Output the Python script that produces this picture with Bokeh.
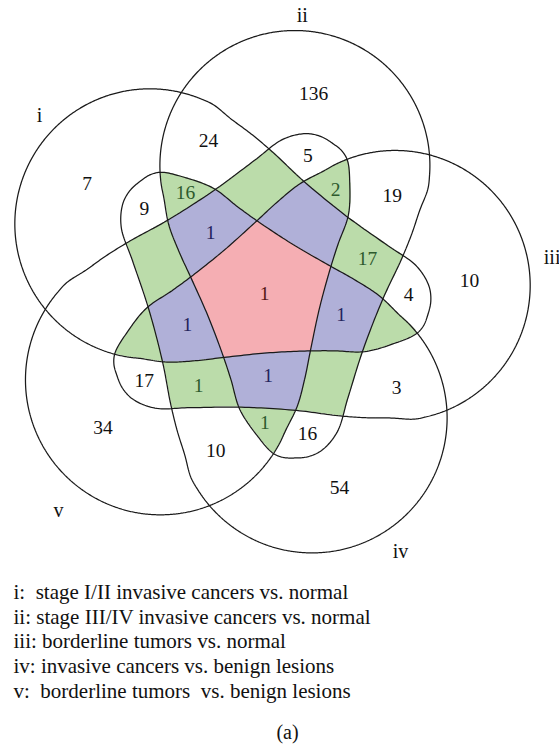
import numpy as np
from bokeh.plotting import figure
from bokeh.models import Range1d, ColumnDataSource
from bokeh.core.properties import value
from bokeh.embed import file_html
from bokeh.resources import INLINE

# ---------------- data ----------------
SETS = ["i", "ii", "iii", "iv", "v"]
LEGEND = [
    "i:\u00a0 stage I/II invasive cancers vs. normal",
    "ii: stage III/IV invasive cancers vs. normal",
    "iii: borderline tumors vs. normal",
    "iv: invasive cancers vs. benign lesions",
    "v:\u00a0 borderline tumors\u00a0 vs. benign lesions",
]
PANEL_LABEL = "(a)"

REGIONS = [
    "i", "ii", "iii", "iv", "v",
    "i,ii", "ii,iii", "iii,iv", "iv,v",
    "i,iv", "ii,v", "i,iii", "ii,iv", "iii,v",
    "i,ii,iv", "ii,iii,v", "ii,iv,v", "i,ii,iii", "iii,iv,v",
    "i,ii,iv,v", "i,ii,iii,iv", "ii,iii,iv,v", "i,iii,iv,v",
    "i,ii,iii,iv,v",
]
COUNTS = [
    7, 136, 10, 54, 34,
    24, 19, 3, 10,
    9, 5, 4, 16, 17,
    16, 2, 1, 17, 1,
    1, 1, 1, 1,
    1,
]

# ---------------- layout / style ----------------
W, H = 559, 744
CX, CY = 262.0, 294.0          # centre of the rotational layout (screen px)
THETA0 = -75.9                 # direction of the round end of set "ii" (deg)
CIRC_U, CIRC_R = 133.0, 135.0  # big round end of each shape
TAIL = [(120, 132), (95, 130), (67, 126), (26, 118), (-29, 111), (-80, 108),
        (-115, 106), (-136, 96), (-146, 84), (-151, 70), (-153, 59), (-151, 48),
        (-138, 29), (-117, 6), (-90, -10), (-68, -24), (-35, -47), (-3, -72),
        (22, -92), (45, -108)]
# label anchors (screen offsets from centre) for the orbit representative of
# each region class, expressed for rotation 0 (shape index: 0=ii,1=iii,2=iv,3=v,4=i)
ORBIT_ANCHORS = {
    frozenset([0]): (51, -201),
    frozenset([4, 0]): (-54, -154),
    frozenset([0, 2]): (45, 139),
    frozenset([4, 0, 2]): (-77, -102),
    frozenset([4, 0, 1]): (105, -36),
    frozenset([4, 0, 2, 3]): (-52, -62),
    frozenset([0, 1, 2, 3, 4]): (2, -1),
}
SET_LABEL_POS = {"i": (286, 6.7), "ii": (282, -6.0), "iii": (292, -3.4),
                 "iv": (291, -6.4), "v": (297, -6.7)}
FONT = "Liberation Serif"
LINE_COLOR = "#1a1a1a"
FILL = {3: (187, 220, 170), 4: (176, 176, 216), 5: (245, 174, 179)}
TEXT_COLOR = {1: "#111111", 2: "#111111", 3: "#2d5a2d", 4: "#23235c", 5: "#561616"}


def shape_index(set_name):
    return (SETS.index(set_name) - 1) % 5


def catmull_rom_closed(pts, n=14, alpha=0.5):
    P = np.asarray(pts, float)
    N = len(P)
    out = []
    for i in range(N):
        p0, p1, p2, p3 = P[(i - 1) % N], P[i], P[(i + 1) % N], P[(i + 2) % N]
        t0 = 0.0
        t1 = t0 + np.linalg.norm(p1 - p0) ** alpha
        t2 = t1 + np.linalg.norm(p2 - p1) ** alpha
        t3 = t2 + np.linalg.norm(p3 - p2) ** alpha
        t = np.linspace(t1, t2, n, endpoint=False)[:, None]
        A1 = (t1 - t) / (t1 - t0) * p0 + (t - t0) / (t1 - t0) * p1
        A2 = (t2 - t) / (t2 - t1) * p1 + (t - t1) / (t2 - t1) * p2
        A3 = (t3 - t) / (t3 - t2) * p2 + (t - t2) / (t3 - t2) * p3
        B1 = (t2 - t) / (t2 - t0) * A1 + (t - t0) / (t2 - t0) * A2
        B2 = (t3 - t) / (t3 - t1) * A2 + (t - t1) / (t3 - t1) * A3
        out.append((t2 - t) / (t2 - t1) * B1 + (t - t1) / (t2 - t1) * B2)
    return np.vstack(out)


def local_shape():
    phis = np.radians(np.arange(-118, 89, 6))
    circ = [(CIRC_U + CIRC_R * np.cos(f), CIRC_R * np.sin(f)) for f in phis]
    return catmull_rom_closed(circ + TAIL)


def shape_xy(k):
    th = np.radians(THETA0 + 72 * k)
    loc = local_shape()
    u, w = loc[:, 0], loc[:, 1]
    x = CX + u * np.cos(th) - w * np.sin(th)
    y = CY + u * np.sin(th) + w * np.cos(th)
    return x, y


def inside(x, y, xs, ys):
    x1, y1 = x, y
    x2, y2 = np.roll(x, -1), np.roll(y, -1)
    mask = np.zeros((len(ys), len(xs)), bool)
    for j, yy in enumerate(ys):
        c = ((y1 <= yy) & (y2 > yy)) | ((y2 <= yy) & (y1 > yy))
        if not c.any():
            continue
        xc = x1[c] + (yy - y1[c]) * (x2[c] - x1[c]) / (y2[c] - y1[c])
        xc.sort()
        mask[j] = (np.searchsorted(xc, xs) % 2) == 1
    return mask


def rotate(dx, dy, deg):
    a = np.radians(deg)
    return dx * np.cos(a) - dy * np.sin(a), dx * np.sin(a) + dy * np.cos(a)


def anchor_for(members):
    ks = frozenset(shape_index(s) for s in members)
    for r in range(5):
        base = frozenset((k - r) % 5 for k in ks)
        if base in ORBIT_ANCHORS:
            dx, dy = rotate(*ORBIT_ANCHORS[base], 72 * r)
            return CX + dx, CY + dy
    return None


# ---------------- geometry ----------------
RES = 0.5
SY_MAX = 570.0
gx = (np.arange(int(W / RES)) + 0.5) * RES
gy = (np.arange(int(SY_MAX / RES)) + 0.5) * RES

outlines = [shape_xy(k) for k in range(5)]
nset = np.zeros((len(gy), len(gx)), np.int32)
for sx, sy in outlines:
    nset += inside(sx, sy, gx, gy).astype(np.int32)

img = np.zeros((len(gy), len(gx), 4), np.uint8)
for n, rgb in FILL.items():
    sel = nset == n
    img[sel, 0], img[sel, 1], img[sel, 2], img[sel, 3] = rgb[0], rgb[1], rgb[2], 255
rgba = np.ascontiguousarray(img[::-1]).view(np.uint32).reshape(len(gy), len(gx))

lab_x, lab_y, lab_t, lab_c = [], [], [], []
for reg, cnt in zip(REGIONS, COUNTS):
    members = reg.split(",")
    pt = anchor_for(members)
    if pt is None:
        continue
    lab_x.append(pt[0])
    lab_y.append(H - pt[1])
    lab_t.append(str(cnt))
    lab_c.append(TEXT_COLOR[len(members)])

# ---------------- figure ----------------
p = figure(width=W, height=H, x_range=Range1d(0, W), y_range=Range1d(0, H),
           output_backend="svg", toolbar_location=None, min_border=0)
p.axis.visible = False
p.grid.visible = False
p.outline_line_color = None
p.background_fill_color = "white"
p.border_fill_color = "white"

p.image_rgba(image=[rgba], x=0, y=H - SY_MAX, dw=W, dh=SY_MAX)
p.patches(xs=[list(o[0]) for o in outlines],
          ys=[list(H - o[1]) for o in outlines],
          fill_color=None, line_color=LINE_COLOR, line_width=1.25)

p.text(x="x", y="y", text="t", text_color="c",
       source=ColumnDataSource(dict(x=lab_x, y=lab_y, t=lab_t, c=lab_c)),
       text_font=value(FONT), text_font_size=value("19.5px"),
       text_align="center", text_baseline="middle")

sl_x, sl_y = [], []
for s in SETS:
    dist, dlt = SET_LABEL_POS[s]
    th = np.radians(THETA0 + 72 * shape_index(s) + dlt)
    sl_x.append(CX + dist * np.cos(th))
    sl_y.append(H - (CY + dist * np.sin(th)))
p.text(x=sl_x, y=sl_y, text=SETS, text_color="#111111",
       text_font=value(FONT), text_font_size=value("20px"),
       text_align="center", text_baseline="middle")

LEG_X, LEG_Y0, LEG_DY = 13, 591.5, 24.7
p.text(x=[LEG_X] * len(LEGEND),
       y=[H - (LEG_Y0 + i * LEG_DY) for i in range(len(LEGEND))],
       text=LEGEND, text_color="#111111", text_font=value(FONT),
       text_font_size=value("21px"), text_align="left", text_baseline="middle")
p.text(x=[287], y=[H - 731], text=[PANEL_LABEL], text_color="#111111",
       text_font=value(FONT), text_font_size=value("20px"),
       text_align="center", text_baseline="middle")

open("out.html", "w").write(file_html(p, INLINE))
